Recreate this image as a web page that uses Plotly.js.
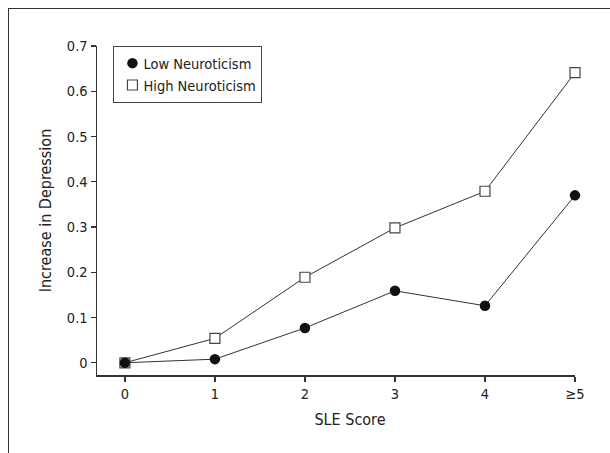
<!DOCTYPE html>
<html>
<head>
<meta charset="utf-8">
<script src="https://cdn.plot.ly/plotly-3.0.1.min.js"></script>
<style>
  html, body { margin: 0; padding: 0; background: #fff; }
  #wrap { position: relative; width: 610px; height: 453px; overflow: hidden; }
  #frame { position: absolute; left: 8px; top: 8px; width: 620px; height: 460px;
           border-left: 1.5px solid #333; border-top: 1.5px solid #333; pointer-events: none; z-index: 5; }
  #chart { position: absolute; left: 0; top: 0; width: 610px; height: 453px; }
</style>
</head>
<body>
<div id="wrap">
  <div id="chart"></div>
  <div id="frame"></div>
</div>
<script>
const sleLabels = ["0", "1", "2", "3", "4", "\u22655"];
const slePositions = [0, 1, 2, 3, 4, 5];
const lowNeuroticism = [0, 0.008, 0.077, 0.159, 0.126, 0.37];
const highNeuroticism = [0, 0.054, 0.189, 0.298, 0.379, 0.641];
const yTickVals = [0, 0.1, 0.2, 0.3, 0.4, 0.5, 0.6, 0.7];
const yTickText = ["0", "0.1", "0.2", "0.3", "0.4", "0.5", "0.6", "0.7"];

const FONT = '"DejaVu Sans Condensed", "DejaVu Sans", sans-serif';
const LINE = { color: "#333", width: 1 };

const traces = [
  { x: slePositions, y: highNeuroticism, type: "scatter", mode: "lines", line: LINE,
    showlegend: false, hoverinfo: "skip", cliponaxis: false },
  { x: slePositions, y: lowNeuroticism, type: "scatter", mode: "lines", line: LINE,
    showlegend: false, hoverinfo: "skip", cliponaxis: false },
  { x: slePositions, y: highNeuroticism, name: "High Neuroticism",
    type: "scatter", mode: "markers", cliponaxis: false,
    marker: { symbol: "square", size: 10, color: "#fff", line: { color: "#444", width: 1.2 } } },
  { x: slePositions, y: lowNeuroticism, name: "Low Neuroticism",
    type: "scatter", mode: "markers", cliponaxis: false,
    marker: { symbol: "circle", size: 10.5, color: "#111", line: { color: "#111", width: 0 } } }
];

const layout = {
  width: 610, height: 453,
  margin: { l: 97, r: 35, t: 46, b: 78 },
  paper_bgcolor: "#fff", plot_bgcolor: "#fff",
  font: { family: FONT, size: 14, color: "#222" },
  showlegend: true,
  legend: {
    x: 0.034, y: 1, xanchor: "left", yanchor: "top",
    bgcolor: "#fff", bordercolor: "#444", borderwidth: 1.2,
    traceorder: "reversed", itemwidth: 30,
    font: { family: FONT, size: 14.5, color: "#222" }
  },
  xaxis: {
    range: [-0.31, 5], showgrid: false, zeroline: false,
    showline: true, linecolor: "#333", linewidth: 1.5,
    ticks: "outside", ticklen: 5, tickcolor: "#333", tickwidth: 1.2,
    tickvals: slePositions, ticktext: sleLabels,
    tickfont: { family: FONT, size: 14.5, color: "#222" },
    title: { text: "SLE Score", font: { family: FONT, size: 16, color: "#222" }, standoff: 13 }
  },
  yaxis: {
    range: [-0.027, 0.7], showgrid: false, zeroline: false,
    showline: true, linecolor: "#333", linewidth: 1.5,
    ticks: "outside", ticklen: 5, tickcolor: "#333", tickwidth: 1.2,
    tickvals: yTickVals, ticktext: yTickText,
    tickfont: { family: FONT, size: 14.5, color: "#222" },
    title: { text: "Increase in Depression", font: { family: FONT, size: 16, color: "#222" }, standoff: 11 }
  }
};

Plotly.newPlot("chart", traces, layout, { displayModeBar: false, staticPlot: true }).then(function (gd) {
  // tighten legend: move labels closer to symbols, shrink box accordingly
  const shift = 11;
  gd.querySelectorAll(".legend .legendtext").forEach(function (t) {
    t.setAttribute("x", parseFloat(t.getAttribute("x") || 0) - shift);
  });
  gd.querySelectorAll(".legend .legendpoints").forEach(function (p) {
    p.setAttribute("transform", "translate(-2,0)");
  });
  const bg = gd.querySelector(".legend rect.bg");
  if (bg) bg.setAttribute("width", parseFloat(bg.getAttribute("width")) - shift);
  // x-axis title sits slightly right of centre in the reference
  const xt = gd.querySelector(".g-xtitle text");
  if (xt) xt.setAttribute("x", parseFloat(xt.getAttribute("x")) + 14);
});
</script>
</body>
</html>
